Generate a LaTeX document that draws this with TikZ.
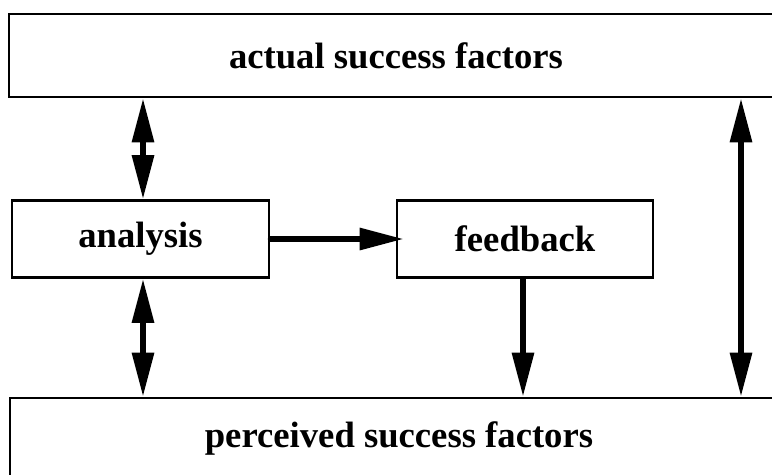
\documentclass[tikz,border=0pt]{standalone}
\usepackage{fontspec}
\setmainfont{Liberation Serif}
\usetikzlibrary{arrows.meta}

\tikzset{
  box/.style={draw=black, line width=2.2pt, fill=white, inner sep=0pt,
              font=\bfseries\fontsize{27.5}{30}\selectfont},
  conn/.style={line width=4pt, draw=black},
  head/.tip={Triangle[length=33pt, width=16pt]},
}

\begin{document}
\begin{tikzpicture}[x=0.75pt, y=-0.75pt]
  \useasboundingbox (0,0) rectangle (772,475);
  \clip (0,0) rectangle (772,475);

  % the four boxes
  \node[box, minimum width=774*0.75pt, minimum height=83*0.75pt]
    (actual) at (396,55.5) {actual success factors};
  \node[box, minimum width=257*0.75pt, minimum height=77*0.75pt]
    (analysis) at (140.5,239) {analysis};
  \node[box, minimum width=256*0.75pt, minimum height=77*0.75pt]
    (feedback) at (525,239) {feedback};
  \node[box, minimum width=778*0.75pt, minimum height=80*0.75pt]
    (perceived) at (399,438) {perceived success factors};

  % x positions of the vertical connectors
  \coordinate (lx) at (143,0);
  \coordinate (fx) at (523,0);
  \coordinate (rx) at (741,0);

  % connectors
  \draw[conn, {head}-{head}] (actual.south -| lx) -- (analysis.north -| lx);
  \draw[conn, {head}-{head}] (analysis.south -| lx) -- (perceived.north -| lx);
  \draw[conn, line cap=round, -{head}] (analysis.east) -- ([xshift=6pt]feedback.west);
  \draw[conn, -{head}] (feedback.south -| fx) -- (perceived.north -| fx);
  \draw[conn, {head}-{head}] (actual.south -| rx) -- (perceived.north -| rx);
\end{tikzpicture}
\end{document}
